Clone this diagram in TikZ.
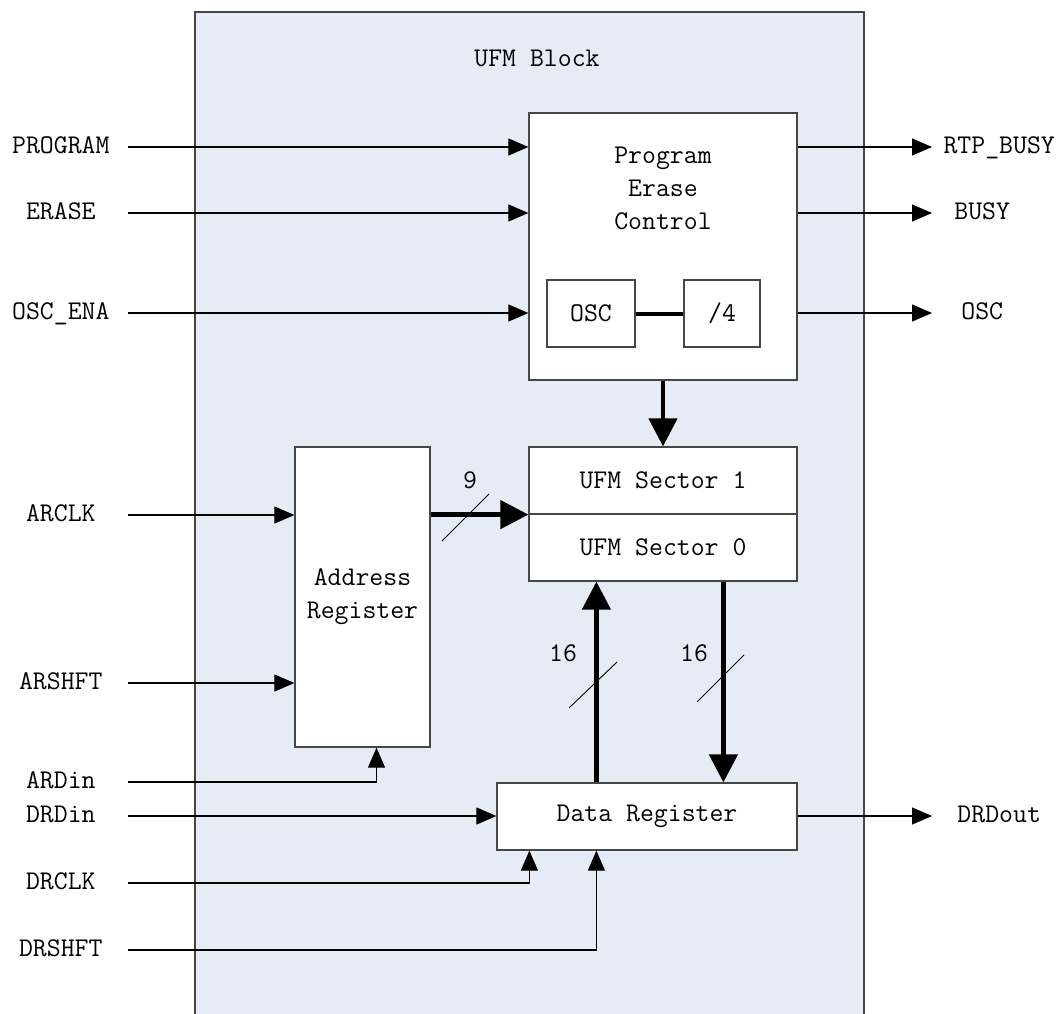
\documentclass[tikz,border=0pt]{standalone}
\usepackage{fontspec}
\usetikzlibrary{arrows.meta}
\definecolor{blockbg}{RGB}{230,236,246}
\definecolor{edgegray}{RGB}{70,70,70}

\begin{document}
\begin{tikzpicture}[x=1pt, y=-1pt,
        font=\ttfamily\fontsize{27}{33}\selectfont,
        box/.style={draw=edgegray, line width=1.2pt, fill=white, inner sep=0pt, align=center},
        insig/.style={anchor=east, minimum width=134pt, inner sep=0pt, text height=18pt, text depth=5pt},
        outsig/.style={anchor=west, minimum width=#1, inner sep=0pt, text height=18pt, text depth=5pt},
        outsig/.default=134pt,
        wire/.style={line width=1.1pt, -{Triangle[length=20pt,width=17pt]}},
        bus/.style={line width=4.5pt, -{Triangle[length=28pt,width=28pt]}},
        slash/.style={line width=0.9pt}]
        \useasboundingbox (0,0) rectangle (1058,1014);

        % Draw UFM block
        \fill[blockbg] (195,12) rectangle (864,1020);
        \draw[edgegray, line width=1.3pt] (195,1020) -- (195,12) -- (864,12) -- (864,1020);
        \node (title) at (537,58) {UFM Block};

        % Draw program/erase control
        \node[box, minimum width=268pt, minimum height=267pt] (pec) at (663,246.5) {};
        \node[align=center] (pectext) at (663,188) {Program\\Erase\\Control};
        \node[box, minimum width=88pt, minimum height=67pt] (osc) at (591,313.5) {OSC};
        \node[box, minimum width=76pt, minimum height=67pt] (div4) at (722,313.5) {/4};
        \draw[line width=4pt] (osc) -- (div4);

        % Draw sectors and registers
        \node[box, minimum width=268pt, minimum height=67pt] (sec1) at (663,480.5) {UFM Sector 1};
        \node[box, minimum width=268pt, minimum height=67pt] (sec0) at (663,547.5) {UFM Sector 0};
        \node[box, minimum width=135pt, minimum height=300pt] (areg) at (362.5,597) {Address\\Register};
        \node[box, minimum width=300pt, minimum height=67pt] (dreg) at (647,816.5) {Data Register};

        % Draw input signals
        \node[insig] (prog) at (128,147) {PROGRAM};
        \node[insig] (erase) at (128,213) {ERASE};
        \node[insig] (oscena) at (128,313) {OSC\_ENA};
        \node[insig] (arclk) at (128,515) {ARCLK};
        \node[insig] (arshft) at (128,683) {ARSHFT};
        \node[insig] (ardin) at (128,782) {ARDin};
        \node[insig] (drdin) at (128,816) {DRDin};
        \node[insig] (drclk) at (128,883) {DRCLK};
        \node[insig] (drshft) at (128,950) {DRSHFT};

        \draw[wire] (prog.east) -- (prog -| pec.west);
        \draw[wire] (erase.east) -- (erase -| pec.west);
        \draw[wire] (oscena.east) -- (oscena -| pec.west);
        \draw[wire] (arclk.east) -- (arclk -| areg.west);
        \draw[wire] (arshft.east) -- (arshft -| areg.west);
        \draw[wire] (ardin.east) -| ([xshift=14pt]areg.south);
        \draw[wire] (drdin.east) -- (drdin -| dreg.west);
        \draw[wire] (drclk.east) -| ([xshift=33pt]dreg.south west);
        \draw[wire] (drshft.east) -| ([xshift=100pt]dreg.south west);

        % Draw output signals
        \node[outsig] (rtp) at (932,147) {RTP\_BUSY};
        \node[outsig=100pt] (busy) at (932,213) {BUSY};
        \node[outsig=100pt] (oscout) at (932,313) {OSC};
        \node[outsig] (drdout) at (932,816) {DRDout};

        \draw[wire] (rtp -| pec.east) -- (rtp.west);
        \draw[wire] (busy -| pec.east) -- (busy.west);
        \draw[wire] (oscout -| pec.east) -- (oscout.west);
        \draw[wire] (drdout -| dreg.east) -- (drdout.west);

        % Draw buses
        \draw[bus] (pec.south) -- (sec1.north);
        \draw[bus] (areg.east |- sec1.south) -- (sec1.south west);
        \node (nine) at (470,480) {9};
        \draw[slash] (442,541) -- (489,494);

        \coordinate (upbus) at ([xshift=100pt]dreg.north west);
        \coordinate (dnbus) at ([xshift=195pt]sec0.south west);
        \draw[bus] (upbus) -- (upbus |- sec0.south);
        \draw[bus] (dnbus) -- (dnbus |- dreg.north);
        \node (upwidth) at (563,653) {16};
        \node (dnwidth) at (694,653) {16};
        \draw[slash] (569,708) -- (617,662);
        \draw[slash] (697,702) -- (744,655);
    \end{tikzpicture}
\end{document}
